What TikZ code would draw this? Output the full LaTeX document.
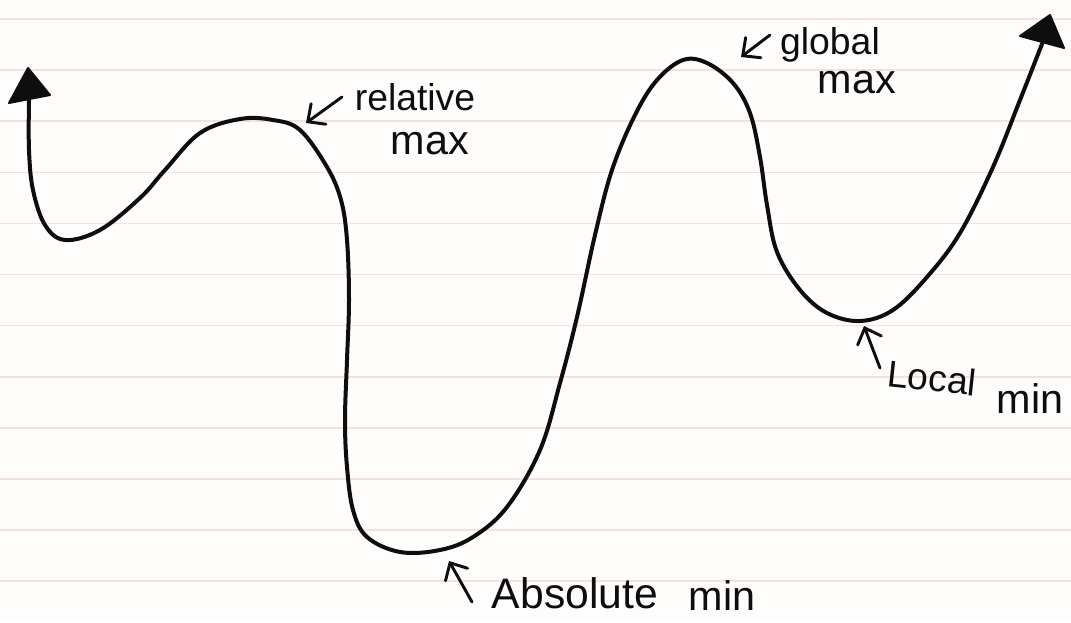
\documentclass[tikz,border=0pt]{standalone}
\usepackage{fontspec}
\setmainfont{Liberation Sans}
\usetikzlibrary{arrows.meta}
\definecolor{rulecol}{RGB}{240,226,222}
\definecolor{ink}{RGB}{14,14,14}
\definecolor{paper}{RGB}{254,253,252}
\begin{document}
\begin{tikzpicture}[x=0.75pt,y=-0.75pt,
  curve/.style={draw=ink,line width=3pt,line cap=round,line join=round},
  head/.style={fill=ink,draw=ink,line width=1.5pt,line join=round},
  pointer/.style={draw=ink,line width=2.2pt,line cap=round,
    -{Straight Barb[length=10pt,width=19pt,line cap=round]}},
  lbl/.style={text=ink,inner sep=0pt},
  ruling/.style={draw=rulecol,line width=1.2pt}]
% paper
\fill[paper] (0,0) rectangle (1071,622);
\useasboundingbox (0,0) rectangle (1071,622);
\foreach \k in {0,...,11}{
  \draw[ruling] (0,{19+51.1*\k}) -- (1071,{19+51.1*\k});
}
% the function curve
\draw[curve] plot[smooth,tension=0.6] coordinates {
 (29,100) (29,150) (33,190) (45,225) (65,240) (100,230) (140,198) (165,170)
 (200,133) (240,119) (273,120) (300,130) (327,167) (341,200)
 (347,240) (349,300) (347,360) (345,420) (347,467) (353,510) (367,537)
 (400,552) (440,550) (473,537) (507,507) (540,450) (560,383) (577,317)
 (595,235) (612,170) (635,115) (657,80) (683,60) (707,63) (733,83)
 (750,113) (760,157) (767,205) (777,252) (800,290) (827,313) (860,321)
 (893,310) (927,277) (960,233) (993,167) (1020,100) (1042,44)};
% arrowheads at the ends
\fill[head] (28,68) -- (9,103) -- (50,95) -- cycle;
\fill[head] (1050,15) -- (1020,36) -- (1064,48) -- cycle;
% labels
\node[lbl,font=\fontsize{28}{30}\selectfont] (relA) at (415,97) {relative};
\node[lbl,font=\fontsize{31}{33}\selectfont] (relB) at (430,144) {max};
\node[lbl,font=\fontsize{28}{30}\selectfont] (gloA) at (830,45) {global};
\node[lbl,font=\fontsize{31}{33}\selectfont] (gloB) at (857,83) {max};
\node[lbl,font=\fontsize{28}{30}\selectfont,rotate=-6] (locA) at (932,378) {Local};
\node[lbl,font=\fontsize{31}{33}\selectfont] (locB) at (1030,399) {min};
\node[lbl,font=\fontsize{32}{34}\selectfont] (absA) at (575,593) {Absolute};
\node[lbl,font=\fontsize{31}{33}\selectfont] (absB) at (722,596) {min};
% pointers
\coordinate (relT) at (342,97);
\coordinate (relP) at (306,123);
\coordinate (gloT) at (770,35);
\coordinate (gloP) at (741,57);
\coordinate (locT) at (880,368);
\coordinate (locP) at (864,326);
\coordinate (absT) at (472,602);
\coordinate (absP) at (449,561);
\draw[pointer] (relT) -- (relP);
\draw[pointer] (gloT) -- (gloP);
\draw[pointer] (locT) -- (locP);
\draw[pointer] (absT) -- (absP);
\end{tikzpicture}
\end{document}
